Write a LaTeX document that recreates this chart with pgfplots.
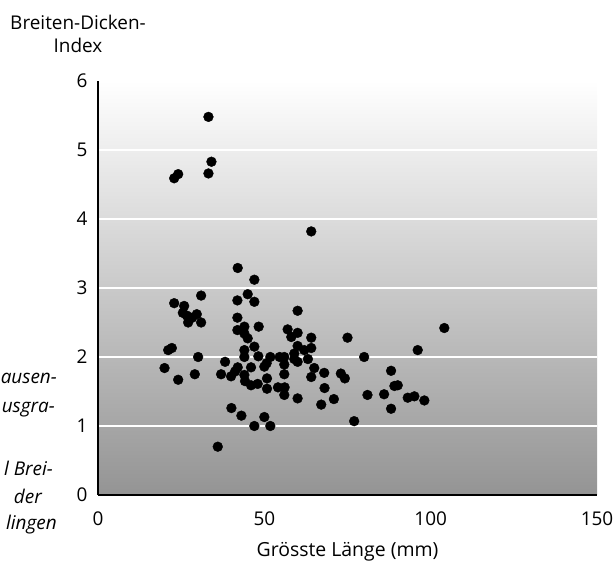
\documentclass[border=0pt]{standalone}
\usepackage{fontspec}
\setmainfont{Open Sans}
\usepackage{pgfplots}
\pgfplotsset{compat=1.18}
\begin{document}
\begin{tikzpicture}[x=1bp,y=1bp]
\useasboundingbox (0,0) rectangle (616,564);
\begin{axis}[
  at={(98bp,69bp)}, anchor=south west,
  scale only axis, width=499bp, height=414bp,
  xmin=0, xmax=150, ymin=0, ymax=6,
  xtick={0,50,100,150}, ytick={0,1,2,3,4,5,6},
  axis x line=bottom, axis y line=left,
  axis line style={line width=2.5bp,-},
  major tick length=0pt,
  ymajorgrids, major grid style={white, line width=1.6bp},
  axis background/.style={shade, top color=white, bottom color=black!42},
  /pgf/number format/assume math mode=true,
  tick label style={font=\fontsize{19}{22}\selectfont},
  yticklabel style={xshift=-7bp},
  xticklabel style={yshift=-13bp},
  xlabel={Grösste Länge (mm)},
  xlabel style={font=\fontsize{19.5}{22}\selectfont, at={(axis description cs:0.5,0)}, anchor=center, yshift=-57bp},
  clip=false,
]
\addplot[only marks, mark=*, mark size=4.9bp, black] coordinates {
(33.2,5.48) (34.1,4.83) (33.2,4.66) (22.9,4.59) (24.1,4.65)
(64.1,3.82) (42.0,3.29) (47.0,3.12)
(31.0,2.89) (22.9,2.78) (25.9,2.74) (25.5,2.64) (26.7,2.60) (29.7,2.62) (28.3,2.57) (27.1,2.50) (31.0,2.50)
(41.9,2.82) (45.0,2.91) (47.0,2.80) (41.9,2.57) (41.9,2.39) (44.0,2.44) (48.3,2.44)
(44.0,2.34) (45.0,2.27) (47.0,2.15) (44.0,2.10) (44.0,2.00) (48.2,2.01)
(21.1,2.10) (22.2,2.13) (30.1,2.00) (20.0,1.84) (38.2,1.93) (42.0,1.85) (46.0,1.85)
(24.1,1.67) (29.1,1.75) (37.0,1.75) (40.0,1.72) (41.2,1.79) (44.0,1.74) (44.2,1.65)
(46.0,1.59) (48.0,1.61) (50.8,1.54) (50.0,1.86)
(40.1,1.26) (43.1,1.15) (47.0,1.00) (50.0,1.13) (51.8,1.00) (36.0,0.70)
(60.0,2.67) (57.0,2.40) (60.0,2.35) (58.1,2.29) (64.1,2.28) (75.0,2.28)
(60.0,2.16) (62.0,2.10) (64.1,2.13) (59.0,2.05) (51.8,2.00) (54.6,2.00) (56.0,2.00)
(59.0,1.97) (60.0,1.93) (63.1,1.97) (80.0,2.00) (50.7,1.91) (56.0,1.89)
(65.0,1.84) (68.0,1.77) (64.1,1.71) (56.0,1.75) (73.0,1.76) (74.2,1.69) (50.8,1.69)
(68.1,1.55) (54.1,1.56) (56.1,1.56) (60.0,1.40) (56.0,1.45) (70.9,1.39) (67.1,1.31)
(81.0,1.45) (104.1,2.42) (96.1,2.10) (88.1,1.80) (89.1,1.58) (90.1,1.59)
(86.0,1.46) (93.1,1.41) (95.1,1.43) (98.1,1.37) (88.1,1.25) (77.0,1.07)
};
\end{axis}
\node[align=center, font=\fontsize{19}{23}\selectfont] at (78,530.5) {Breiten-Dicken-\\Index};
\begin{scope}[every node/.style={anchor=east, font=\fontsize{19}{22}\selectfont\itshape, inner sep=0pt}]
\node at (57,186) {ausen-};
\node at (55,154) {usgra-};
\node at (53,96) {l Brei-};
\node at (42,68) {der};
\node at (57,39) {lingen};
\end{scope}
\end{tikzpicture}
\end{document}
